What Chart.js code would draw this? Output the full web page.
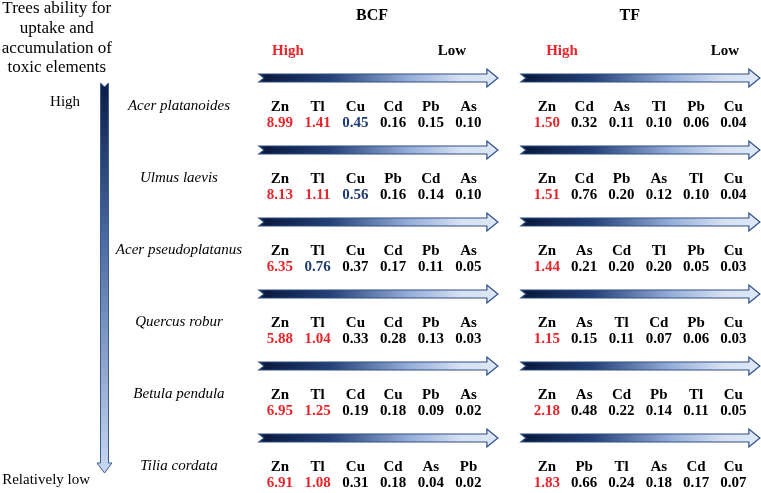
<!DOCTYPE html>
<html>
<head>
<meta charset="utf-8">
<script src="https://cdn.jsdelivr.net/npm/chart.js@4/dist/chart.umd.min.js"></script>
<style>
  body { margin: 0; background: #fff; }
  canvas { display: block; }
</style>
</head>
<body>
<canvas id="myChart" width="761" height="493"></canvas>
<script>
// data
var trees = ["Acer platanoides", "Ulmus laevis", "Acer pseudoplatanus", "Quercus robur", "Betula pendula", "Tilia cordata"];

var bcfElements = [
  ["Zn", "Tl", "Cu", "Cd", "Pb", "As"],
  ["Zn", "Tl", "Cu", "Pb", "Cd", "As"],
  ["Zn", "Tl", "Cu", "Cd", "Pb", "As"],
  ["Zn", "Tl", "Cu", "Cd", "Pb", "As"],
  ["Zn", "Tl", "Cd", "Cu", "Pb", "As"],
  ["Zn", "Tl", "Cu", "Cd", "As", "Pb"],
];
var bcfValues = [
  [8.99, 1.41, 0.45, 0.16, 0.15, 0.10],
  [8.13, 1.11, 0.56, 0.16, 0.14, 0.10],
  [6.35, 0.76, 0.37, 0.17, 0.11, 0.05],
  [5.88, 1.04, 0.33, 0.28, 0.13, 0.03],
  [6.95, 1.25, 0.19, 0.18, 0.09, 0.02],
  [6.91, 1.08, 0.31, 0.18, 0.04, 0.02],
];

var tfElements = [
  ["Zn", "Cd", "As", "Tl", "Pb", "Cu"],
  ["Zn", "Cd", "Pb", "As", "Tl", "Cu"],
  ["Zn", "As", "Cd", "Tl", "Pb", "Cu"],
  ["Zn", "As", "Tl", "Cd", "Pb", "Cu"],
  ["Zn", "As", "Cd", "Pb", "Tl", "Cu"],
  ["Zn", "Pb", "Tl", "As", "Cd", "Cu"],
];
var tfValues = [
  [1.50, 0.32, 0.11, 0.10, 0.06, 0.04],
  [1.51, 0.76, 0.20, 0.12, 0.10, 0.04],
  [1.44, 0.21, 0.20, 0.20, 0.05, 0.03],
  [1.15, 0.15, 0.11, 0.07, 0.06, 0.03],
  [2.18, 0.48, 0.22, 0.14, 0.11, 0.05],
  [1.83, 0.66, 0.24, 0.18, 0.17, 0.07],
];

var titleLines = ["Trees ability for", "uptake and", "accumulation of", "toxic elements"];

var RED = "#e8252b";
var BLUE = "#203c72";
var SERIF = '"Liberation Serif", "Times New Roman", serif';

// layout in scale units (x: element column, y: tree row)
var tfStart = 7.08, tfStep = 0.989;

function points(elements, values, start, step, panel) {
  var pts = [];
  for (var r = 0; r < values.length; r++) {
    for (var c = 0; c < values[r].length; c++) {
      pts.push({ x: start + c * step, y: r, el: elements[r][c], v: values[r][c], panel: panel });
    }
  }
  return pts;
}

// BCF: >1 red, >=0.4 blue ; TF: >1 red only
function valueColor(p) {
  if (p.v > 1) return RED;
  if (p.panel === "bcf" && p.v >= 0.4) return BLUE;
  return "#000";
}

function arrowPath(ctx, x0, x1, y) {
  var sh = 4, hh = 9, hl = 11, notch = 5;
  ctx.beginPath();
  ctx.moveTo(x0, y - sh);
  ctx.lineTo(x1 - hl, y - sh);
  ctx.lineTo(x1 - hl, y - hh);
  ctx.lineTo(x1, y);
  ctx.lineTo(x1 - hl, y + hh);
  ctx.lineTo(x1 - hl, y + sh);
  ctx.lineTo(x0, y + sh);
  ctx.lineTo(x0 + notch, y);
  ctx.closePath();
}

function hArrow(ctx, x0, x1, y) {
  var g = ctx.createLinearGradient(x0, 0, x1, 0);
  g.addColorStop(0, "#081638");
  g.addColorStop(0.3, "#24417a");
  g.addColorStop(0.62, "#93abd6");
  g.addColorStop(0.85, "#d6e1f4");
  g.addColorStop(1, "#dde7f7");
  arrowPath(ctx, x0, x1, y);
  ctx.fillStyle = g;
  ctx.fill();
  ctx.lineWidth = 1.2;
  ctx.strokeStyle = "#2f4f86";
  ctx.stroke();
}

function vArrow(ctx, x, y0, y1) {
  var sh = 4, hh = 7.5, hl = 10, notch = 4;
  var g = ctx.createLinearGradient(0, y0, 0, y1);
  g.addColorStop(0, "#0a1c48");
  g.addColorStop(0.4, "#4a6aa3");
  g.addColorStop(1, "#c9d8f2");
  ctx.beginPath();
  ctx.moveTo(x - sh, y0);
  ctx.lineTo(x, y0 + notch);
  ctx.lineTo(x + sh, y0);
  ctx.lineTo(x + sh, y1 - hl);
  ctx.lineTo(x + hh, y1 - hl);
  ctx.lineTo(x, y1);
  ctx.lineTo(x - hh, y1 - hl);
  ctx.lineTo(x - sh, y1 - hl);
  ctx.closePath();
  ctx.fillStyle = g;
  ctx.fill();
  ctx.lineWidth = 1;
  ctx.strokeStyle = "#3a5a90";
  ctx.stroke();
}

function text(ctx, s, x, y, font, color, align) {
  ctx.save();
  ctx.font = font;
  ctx.fillStyle = color;
  ctx.textAlign = align || "center";
  ctx.textBaseline = "middle";
  ctx.fillText(s, x, y);
  ctx.restore();
}

const diagram = {
  id: "diagram",
  beforeDatasetsDraw(chart) {
    var ctx = chart.ctx, xs = chart.scales.x, ys = chart.scales.y;
    var X = (v) => xs.getPixelForValue(v), Y = (v) => ys.getPixelForValue(v);
    // left side
    titleLines.forEach((t, i) => text(ctx, t, X(-5.92), Y(-0.958 + i * 0.271), "17px " + SERIF, "#000"));
    text(ctx, "High", X(-5.70), Y(0.333), "15px " + SERIF, "#000");
    text(ctx, "Relatively low", X(-7.37), Y(5.583), "15px " + SERIF, "#000", "left");
    vArrow(ctx, X(-4.655), Y(0.069), Y(5.486));
    // panel headers
    text(ctx, "BCF", X(2.44), Y(-0.861), "bold 16px " + SERIF, "#000");
    text(ctx, "TF", X(9.28), Y(-0.861), "bold 16px " + SERIF, "#000");
    text(ctx, "High", X(0.21), Y(-0.375), "bold 15px " + SERIF, RED);
    text(ctx, "Low", X(4.56), Y(-0.375), "bold 15px " + SERIF, "#000");
    text(ctx, "High", X(7.48), Y(-0.375), "bold 15px " + SERIF, RED);
    text(ctx, "Low", X(11.80), Y(-0.375), "bold 15px " + SERIF, "#000");
    // rows
    trees.forEach((t, r) => {
      text(ctx, t, X(-2.68), Y(r) + 28, "italic 15px " + SERIF, "#000");
      hArrow(ctx, X(-0.557), X(5.78), Y(r));
      hArrow(ctx, X(6.39), X(12.73), Y(r));
    });
  },
  afterDatasetsDraw(chart) {
    var ctx = chart.ctx;
    chart.data.datasets.forEach((ds, i) => {
      chart.getDatasetMeta(i).data.forEach((pt, j) => {
        var p = ds.data[j];
        text(ctx, p.el, pt.x, pt.y + 29, "bold 15px " + SERIF, "#000");
        text(ctx, p.v.toFixed(2), pt.x, pt.y + 45, "bold 15px " + SERIF, valueColor(p));
      });
    });
  },
};

const config = {
  type: "scatter",
  data: {
    datasets: [
      { label: "BCF", data: points(bcfElements, bcfValues, 0, 1, "bcf"), pointRadius: 0 },
      { label: "TF", data: points(tfElements, tfValues, tfStart, tfStep, "tf"), pointRadius: 0 },
    ],
  },
  options: {
    responsive: false,
    animation: false,
    events: [],
    layout: { padding: 0 },
    scales: {
      x: { type: "linear", display: false, min: -7.427, max: 12.759 },
      y: { type: "linear", display: false, reverse: true, min: -1.0833, max: 5.764 },
    },
    plugins: { legend: { display: false }, tooltip: { enabled: false } },
  },
  plugins: [diagram],
};

const myChart = new Chart(document.getElementById("myChart"), config);
</script>
</body>
</html>
